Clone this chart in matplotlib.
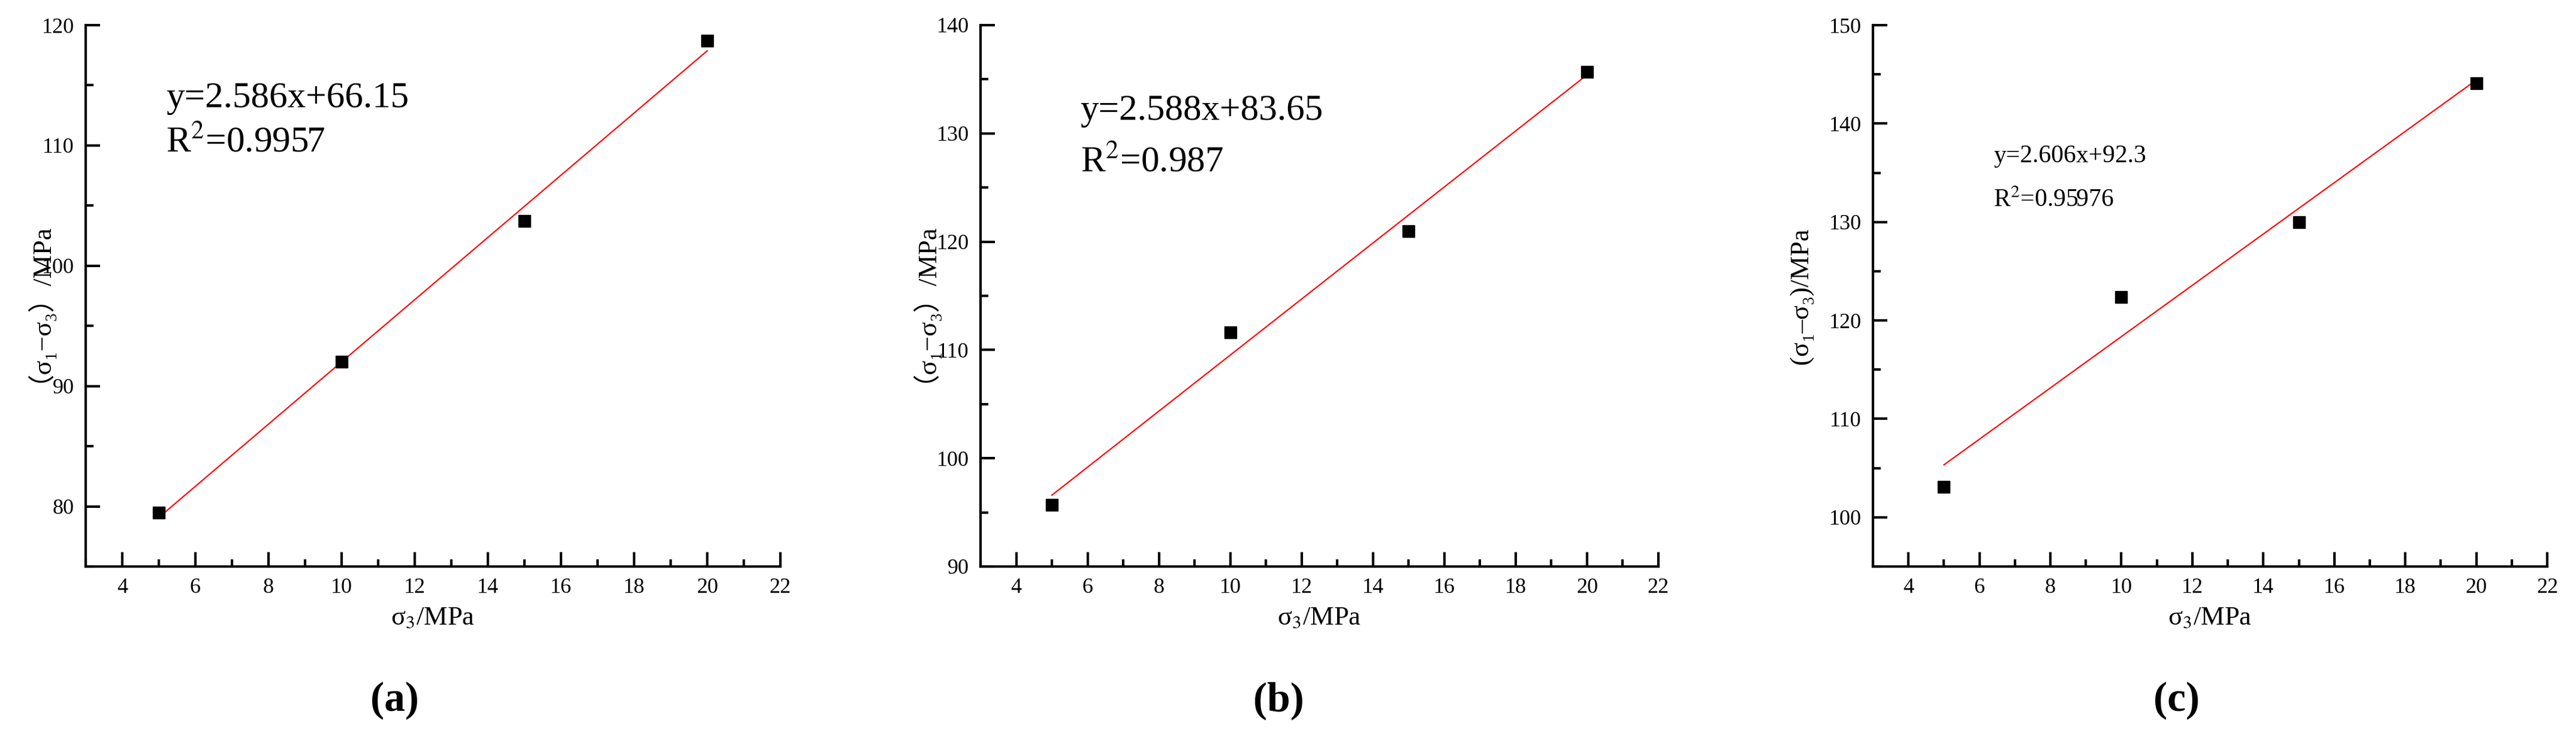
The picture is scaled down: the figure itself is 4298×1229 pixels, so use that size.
import numpy as np
import matplotlib
matplotlib.use("Agg")
import matplotlib.pyplot as plt
from matplotlib.ticker import MultipleLocator

plt.rcParams['font.family'] = ['Liberation Serif', 'Noto Sans CJK SC', 'DejaVu Sans']
plt.rcParams['mathtext.fontset'] = 'stix'

x_vals = [5, 10, 15, 20]
y_a = [79.5, 92.0, 103.7, 118.7]
y_b = [95.7, 111.6, 121.0, 135.7]
y_c = [103.1, 122.4, 130.0, 144.1]
fit_a = [2.586, 66.15]
fit_b = [2.588, 83.65]
fit_c = [2.606, 92.3]
eq_a = ["y=2.586x+66.15", "R$^2$=0.9957"]
eq_b = ["y=2.588x+83.65", "R$^2$=0.987"]
eq_c = ["y=2.606x+92.3", "R$^2$=0.95976"]
ylims = [(75, 120), (90, 140), (95, 150)]
ylabels = ["（σ₁−σ₃）/MPa", "（σ₁−σ₃）/MPa", "(σ₁–σ₃)/MPa"]
panel_labels = ["(a)", "(b)", "(c)"]

W, H = 4298, 1229
fig = plt.figure(figsize=(W/100, H/100), dpi=100)

boxes = [(143, 1302), (1636, 2767), (3125, 4250)]
top, bottom = 42, 946
datas = [y_a, y_b, y_c]
fits = [fit_a, fit_b, fit_c]
eqs = [eq_a, eq_b, eq_c]
eq_pos = [(5.2, 113.9, 110.2, 44), (5.8, 132.1, 127.3, 44), (6.4, 136.7, 132.2, 30)]
ylab_x = [41, 1518, 3006]
lab_x = [658, 2133, 3632]

for i in range(3):
    l, r = boxes[i]
    ax = fig.add_axes([l/W, 1-bottom/H, (r-l)/W, (bottom-top)/H])
    xs = np.array(x_vals, dtype=float)
    ax.plot(xs, np.polyval(fits[i], xs), color='red', lw=1.6, zorder=2)
    ax.plot(xs, datas[i], 's', color='black', ms=14, zorder=3)
    ax.set_xlim(3, 22)
    ax.set_ylim(*ylims[i])
    ax.xaxis.set_major_locator(MultipleLocator(2))
    ax.xaxis.set_minor_locator(MultipleLocator(1))
    ax.yaxis.set_major_locator(MultipleLocator(10))
    ax.yaxis.set_minor_locator(MultipleLocator(5))
    for s in ['top', 'right']:
        ax.spines[s].set_visible(False)
    for s in ['left', 'bottom']:
        ax.spines[s].set_linewidth(3)
    ax.tick_params(which='major', direction='in', length=17, width=3, labelsize=26, pad=14)
    ax.tick_params(which='minor', direction='in', length=9, width=3)
    ax.set_xlabel("σ$_3$/MPa", fontsize=32, labelpad=10)
    tx, ty1, ty2, fs = eq_pos[i]
    ax.text(tx, ty1, eqs[i][0], fontsize=fs, va='center', ha='left')
    ax.text(tx, ty2, eqs[i][1], fontsize=fs, va='center', ha='left')
    fig.text(ylab_x[i]/W, 1-(top+bottom)/2/H, ylabels[i], rotation=90,
             fontsize=32, ha='center', va='center')
    fig.text(lab_x[i]/W, 1-1170/H, panel_labels[i], fontsize=50,
             fontweight='bold', ha='center', va='center')

fig.savefig("out.png", dpi=100)
